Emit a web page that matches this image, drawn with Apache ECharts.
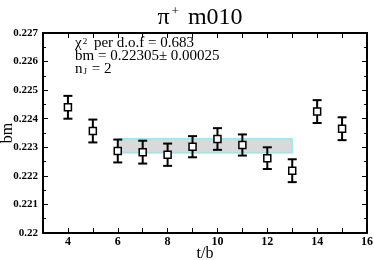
<!DOCTYPE html>
<html>
<head>
<meta charset="utf-8">
<script src="https://cdn.jsdelivr.net/npm/echarts@6/dist/echarts.min.js"></script>
<style>
  html, body { margin: 0; padding: 0; background: #fff; }
  #chart { width: 374px; height: 260px; }
</style>
</head>
<body>
<div id="chart"></div>
<script>
// data
const tValues = [4, 5, 6, 7, 8, 9, 10, 11, 12, 13, 14, 15];
const bmValues = [0.2244, 0.22357, 0.22287, 0.22283, 0.22274, 0.22302, 0.22329, 0.22308, 0.22262, 0.22218, 0.22425, 0.22365];
const bmErrors = [0.0004, 0.0004, 0.0004, 0.0004, 0.00039, 0.00037, 0.00038, 0.00037, 0.00038, 0.0004, 0.0004, 0.0004];
const fitRange = [6, 13];
const fitValue = 0.22305;
const fitError = 0.00025;

const serif = "Liberation Serif";

let chart = echarts.init(document.getElementById("chart"));

const points = tValues.map((t, i) => [t, bmValues[i]]);
const bars = tValues.map((t, i) => [t, bmValues[i] - bmErrors[i], bmValues[i] + bmErrors[i]]);

const axisCommon = {
  axisLine: { show: true, onZero: false, lineStyle: { color: "#000", width: 2 } },
  axisTick: { show: true, inside: true, length: 5, lineStyle: { color: "#000", width: 1 } },
  splitLine: { show: false },
};

chart.setOption({
  animation: false,
  title: {
    text: "{a|π}{s|+}{a| m010}",
    left: 195,
    textAlign: "center",
    top: 0,
    textStyle: {
      rich: {
        a: { fontFamily: serif, fontSize: 24, fontWeight: "normal", color: "#000" },
        s: { fontFamily: serif, fontSize: 13, fontWeight: "normal", color: "#000", verticalAlign: "top", padding: [0, 3, 12, 2] },
      },
    },
  },
  grid: { left: 43, right: 7, top: 33, bottom: 27, containLabel: false, outerBoundsMode: "none" },
  xAxis: [
    {
      type: "value",
      min: 3,
      max: 16,
      interval: 1,
      position: "bottom",
      ...axisCommon,
      axisLabel: {
        color: "#000",
        fontFamily: serif,
        fontWeight: "bold",
        fontSize: 12,
        margin: 3,
        formatter: (v) => (v % 2 === 0 ? String(v) : ""),
      },
      name: "t/b",
      nameLocation: "middle",
      nameGap: 13,
      nameMoveOverlap: false,
      nameTextStyle: { fontFamily: serif, fontSize: 16, color: "#000" },
    },
    {
      type: "value",
      min: 3,
      max: 16,
      interval: 1,
      position: "top",
      ...axisCommon,
      axisLabel: { show: false },
    },
  ],
  yAxis: [
    {
      type: "value",
      min: 0.22,
      max: 0.227,
      interval: 0.001,
      position: "left",
      ...axisCommon,
      minorTick: { show: true, splitNumber: 2, length: 3, lineStyle: { color: "#000" } },
      axisLabel: {
        color: "#000",
        fontFamily: serif,
        fontWeight: "bold",
        fontSize: 11,
        margin: 5,
      },
      name: "bm",
      nameLocation: "middle",
      nameGap: 27,
      nameMoveOverlap: false,
      nameTextStyle: { fontFamily: serif, fontSize: 16, color: "#000" },
    },
    {
      type: "value",
      min: 0.22,
      max: 0.227,
      interval: 0.001,
      position: "right",
      ...axisCommon,
      minorTick: { show: true, splitNumber: 2, length: 3, lineStyle: { color: "#000" } },
      axisLabel: { show: false },
    },
  ],
  graphic: [
    {
      type: "text",
      left: 75,
      top: 36,
      style: {
        text: "{t|χ}{s|2}{t| per d.o.f = 0.683}\n{t|bm = 0.22305± 0.00025}\n{t|n}{u|J}{t| = 2}",
        rich: {
          t: { fontFamily: serif, fontSize: 15, fill: "#000", lineHeight: 13 },
          s: { fontFamily: serif, fontSize: 9, fill: "#000", verticalAlign: "top", lineHeight: 13, padding: [0, 3, 6, 1] },
          u: { fontFamily: serif, fontSize: 9, fill: "#000", verticalAlign: "bottom", lineHeight: 13, padding: [5, 1, 0, 1] },
        },
      },
    },
  ],
  series: [
    {
      type: "scatter",
      data: [],
      silent: true,
      markArea: {
        silent: true,
        itemStyle: { color: "#d9d9d9", borderColor: "#7fe8ec", borderWidth: 1 },
        data: [[{ coord: [fitRange[0], fitValue - fitError] }, { coord: [fitRange[1], fitValue + fitError] }]],
      },
    },
    {
      type: "custom",
      data: bars,
      z: 3,
      renderItem: function (params, api) {
        const x = api.value(0);
        const lo = api.coord([x, api.value(1)]);
        const hi = api.coord([x, api.value(2)]);
        const w = 4.5;
        const style = { stroke: "#000", lineWidth: 2, fill: null };
        return {
          type: "group",
          children: [
            { type: "line", shape: { x1: lo[0], y1: lo[1], x2: hi[0], y2: hi[1] }, style },
            { type: "line", shape: { x1: lo[0] - w, y1: lo[1], x2: lo[0] + w, y2: lo[1] }, style },
            { type: "line", shape: { x1: hi[0] - w, y1: hi[1], x2: hi[0] + w, y2: hi[1] }, style },
          ],
        };
      },
    },
    {
      type: "scatter",
      data: points,
      z: 4,
      symbol: "rect",
      symbolSize: 7,
      itemStyle: { color: "#fff", borderColor: "#000", borderWidth: 1.5, opacity: 1 },
    },
  ],
});
</script>
</body>
</html>
